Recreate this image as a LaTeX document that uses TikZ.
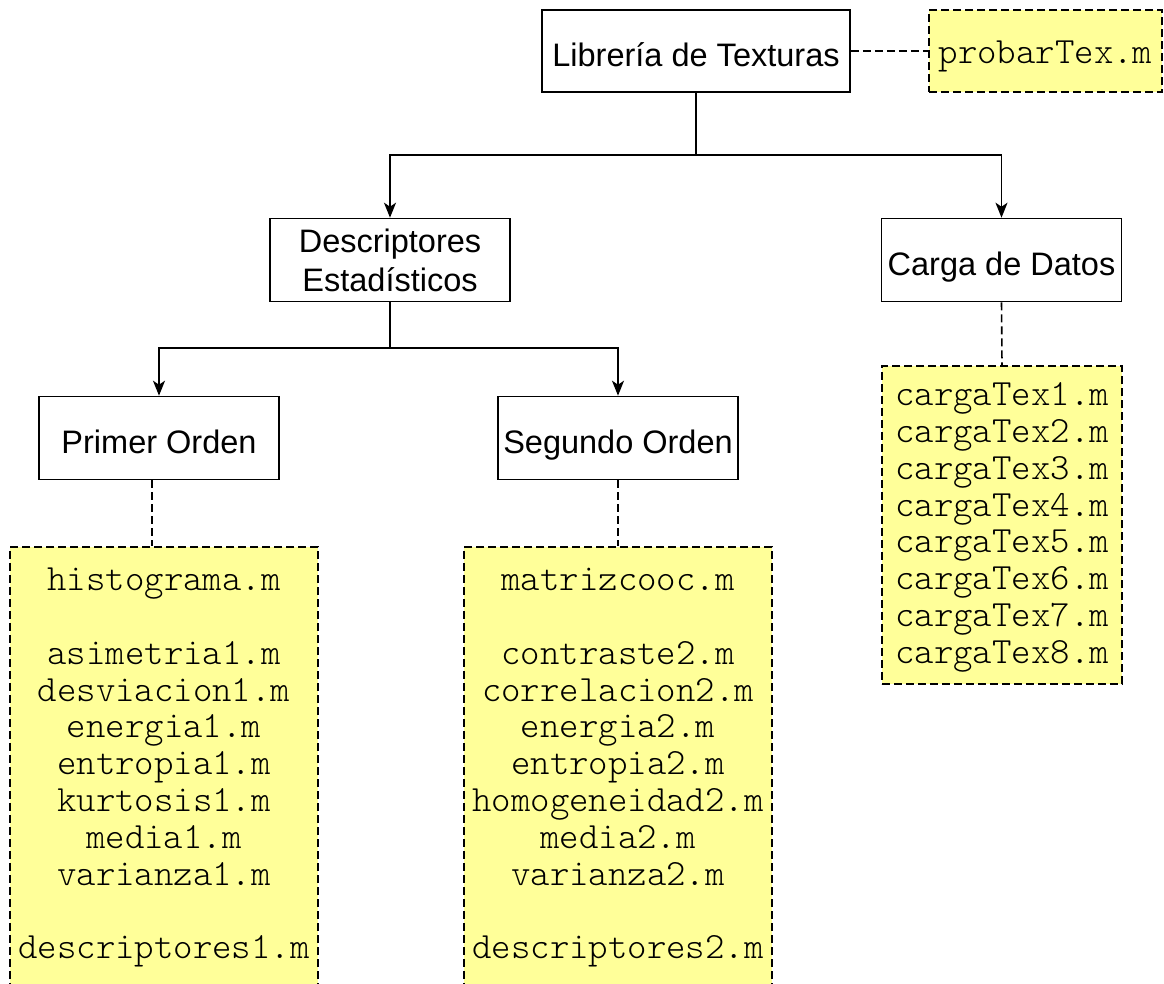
\documentclass[tikz,border=0pt]{standalone}
\usepackage{fontspec}
\setmainfont{Liberation Sans}
\newfontfamily\codefont{lmmonolt10-regular}[Extension=.otf]
\usetikzlibrary{arrows.meta}
\definecolor{fileyellow}{HTML}{FFFF99}

\begin{document}
\begin{tikzpicture}[x=1pt,y=-1pt,line width=1.6pt,
  box/.style={draw,fill=white,minimum width=240pt,minimum height=83pt,
    align=center,inner sep=0pt,text height=30pt,text depth=0pt,
    font=\fontsize{32.5}{39}\selectfont},
  file/.style={draw,dash pattern=on 8pt off 4pt,fill=fileyellow,inner sep=0pt,
    font=\codefont\fontsize{37}{36.8}\selectfont},
  listing/.style={align=center,inner sep=0pt,anchor=north,
    font=\codefont\fontsize{37}{36.8}\selectfont},
  link/.style={-{Stealth[length=15pt,width=12pt,inset=4pt]}},
  dashlink/.style={dash pattern=on 8pt off 4pt}]

\useasboundingbox (0,0) rectangle (1164,983);
\clip (0,0) rectangle (1164,983);

% tree of modules
\node[box,minimum width=308pt,minimum height=82pt] (lib) at (696,51) {Librería de Texturas};
\node[file,minimum width=233pt,minimum height=82pt,text height=24.6pt,text depth=0pt] (probar) at (1045.5,51) {probarTex.m};
\node[box,text height=63.4pt] (desc) at (390,260) {Descriptores\\Estadísticos};
\node[box] (carga) at (1001.5,260) {Carga de Datos};
\node[box] (prim) at (159,438) {Primer Orden};
\node[box] (seg) at (618,438) {Segundo Orden};

% file lists
\node[file,minimum width=308pt,minimum height=460pt,anchor=north] (f1) at (164,546) {};
\node[listing] (l1) at (164,564.2) {\strut histograma.m\\[36.8pt]asimetria1.m\\desviacion1.m\\energia1.m\\entropia1.m\\kurtosis1.m\\media1.m\\varianza1.m\\[36.8pt]descriptores1.m};
\node[file,minimum width=308pt,minimum height=460pt,anchor=north] (f2) at (618,546) {};
\node[listing] (l2) at (618,564.2) {\strut matrizcooc.m\\[36.8pt]contraste2.m\\correlacion2.m\\energia2.m\\entropia2.m\\homogeneidad2.m\\media2.m\\varianza2.m\\[36.8pt]descriptores2.m};
\node[file,minimum width=240pt,minimum height=318pt] (f3) at (1002,525) {};
\node[listing] (l3) at (1002,379.2) {\strut cargaTex1.m\\cargaTex2.m\\cargaTex3.m\\cargaTex4.m\\cargaTex5.m\\cargaTex6.m\\cargaTex7.m\\cargaTex8.m};

% connectors
\coordinate (j1) at (696,155);
\coordinate (j2) at (390,348);
\draw (lib.south) -- (j1);
\draw[link] (j1) -| (desc.north);
\draw[link] (j1) -| (carga.north);
\draw (desc.south) -- (j2);
\draw[link] (j2) -| (prim.north);
\draw[link] (j2) -| (seg.north);
\draw[dashlink] (lib.east) -- (probar.west);
\draw[dashlink] ([xshift=-7pt]prim.south) -- ([xshift=-7pt]prim.south |- f1.north);
\draw[dashlink] (seg.south) -- (seg.south |- f2.north);
\draw[dashlink] (carga.south) -- (f3.north);
\end{tikzpicture}
\end{document}
